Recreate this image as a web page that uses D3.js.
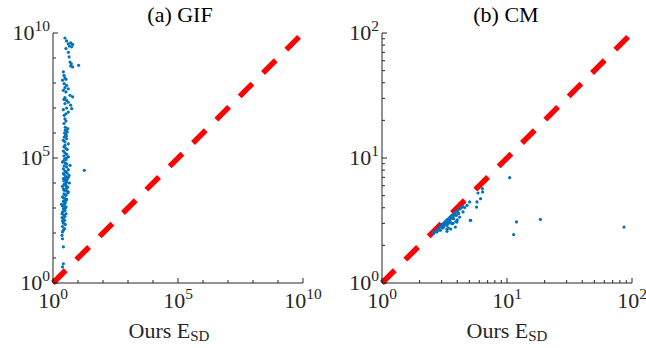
<!DOCTYPE html>
<html>
<head>
<meta charset="utf-8">
<script src="https://cdn.jsdelivr.net/npm/d3@7/dist/d3.min.js"></script>
<style>
  body { margin: 0; background: #fff; }
  svg { display: block; font-family: "Liberation Serif", "DejaVu Serif", serif; }
</style>
</head>
<body>
<svg id="chart" width="646" height="348"></svg>
<script>
// ---- (a) GIF: per-shape error, ours (x) vs. GIF (y) ----
const gifOurs = [
  3.0, 3.5, 4.1, 5.1, 6.1, 4.5, 5.6, 3.3, 4.1, 4.4, 4.8, 5.4, 6.1, 10.6, 5.1,
  2.6, 2.75, 3.0, 2.4, 3.3, 2.8, 3.5, 3.0, 4.1, 2.6, 3.3, 4.8, 3.0, 6.1, 2.75, 3.5, 4.1, 3.0, 5.1, 3.5, 2.6, 5.6, 4.1, 3.3,
  3.0, 3.3, 2.75, 3.1, 3.5, 2.9, 3.3, 3.7, 2.8, 3.5, 2.6, 4.1, 3.0, 3.3, 2.6, 3.0, 3.5, 2.75, 4.1, 3.3, 2.6, 3.1, 4.8, 3.5,
  2.6, 3.0, 3.7, 2.8, 3.3, 4.1, 2.6, 3.0, 3.5, 4.5, 2.8, 3.3, 3.9, 2.6, 3.1, 3.5, 4.1, 2.75, 3.3, 2.4, 3.0, 3.5, 2.6, 3.1,
  2.2, 2.8, 3.3, 2.6, 3.0, 2.4, 3.3, 2.75, 2.3, 2.9, 2.6, 2.4, 2.9, 2.6, 2.3, 2.4, 2.6, 2.6, 2.4,
  2.4, 3.5, 2.8, 4.1, 3.3, 2.6, 4.4, 3.0, 3.7, 2.75, 3.2, 2.4, 3.5, 2.8, 3.9, 3.0, 2.6, 3.3, 2.8, 2.4, 3.1, 2.75, 2.3,
  3.0, 2.6, 2.4, 3.1, 2.4, 3.7, 3.0, 3.2, 3.9, 2.8, 3.1, 3.4, 2.75, 3.4, 2.9,
  17.9
];
const gifBaseline = [
  6.3e9, 4.8e9, 3.7e9, 4.0e9, 3.5e9, 3.0e9, 2.8e9, 2.4e9, 1.7e9, 1.1e9, 6.9e8, 5.9e8, 4.4e8, 5.1e8, 4.8e8,
  2.8e8, 2.0e8, 1.6e8, 1.3e8, 1.4e8, 9.4e7, 8.1e7, 6.5e7, 5.9e7, 5.1e7, 4.4e7, 3.2e7, 2.6e7, 2.8e7, 2.2e7, 2.0e7, 1.7e7, 1.5e7, 1.3e7, 1.0e7, 8.6e6, 9.4e6, 6.9e6, 5.9e6,
  3.7e6, 3.0e6, 2.4e6, 1.7e6, 1.2e6, 1.0e6, 8.9e5, 1.1e6, 6.9e5, 5.9e5, 5.1e5, 3.7e5, 3.2e5, 2.4e5, 1.9e5, 1.6e5, 1.4e5, 1.2e5, 1.1e5, 8.6e4, 7.6e4, 6.3e4, 5.1e4, 4.4e4,
  3.7e4, 3.0e4, 2.5e4, 2.2e4, 1.8e4, 1.7e4, 1.5e4, 1.3e4, 1.1e4, 1.0e4, 8.9e3, 7.8e3, 6.9e3, 5.9e3, 5.4e3, 4.8e3, 4.4e3, 3.7e3, 3.2e3, 2.8e3, 2.4e3, 2.2e3, 1.9e3, 1.6e3,
  1.4e3, 1.3e3, 1.1e3, 940, 810, 690, 590, 510, 410, 320, 250, 180, 150, 130, 81, 59, 28, 5.9, 4.4,
  6.9e4, 5.9e4, 4.8e4, 3.4e4, 2.8e4, 2.4e4, 2.0e4, 1.6e4, 1.4e4, 1.2e4, 9.4e3, 7.4e3, 6.3e3, 5.1e3, 4.0e3, 3.4e3, 2.6e3, 2.0e3, 1.7e3, 1.2e3, 1.0e3, 760, 590,
  460, 370, 300, 220, 110, 2.2e5, 4.4e5, 8.1e5, 1.5e6, 5.1e6, 1.3e6, 7.4e5, 2.8e5, 1.0e5, 9.1e4,
  3.2e4
];

// ---- (b) CM: per-shape error, ours (x) vs. CM (y) ----
const cmOurs = [
  10.5, 11.3, 11.9, 18.5, 86.3, 5.12,
  5.86, 6.38, 6.35, 6.15, 5.75, 5.71, 5.02, 4.79, 4.58, 4.45, 4.18, 5.09, 3.93, 3.74, 3.52, 3.31, 3.11, 2.93, 2.75, 2.59,
  3.31, 3.86, 3.63, 3.98, 4.11,
  2.6, 2.7, 2.8, 2.85, 2.9, 3.0, 3.0, 3.05, 3.1, 3.15, 3.2, 3.2, 3.25, 3.3, 3.3, 3.35, 3.4, 3.4, 3.45, 3.5,
  3.5, 3.55, 3.6, 3.6, 3.65, 3.7, 3.75, 3.8, 3.85, 3.9, 4.0, 4.05, 4.2, 4.3, 4.4, 3.4, 3.55, 3.3, 3.7, 3.9, 4.0
];
const cmBaseline = [
  6.96, 2.44, 3.08, 3.23, 2.80, 3.17,
  5.25, 5.35, 5.69, 4.73, 4.45, 4.05, 4.45, 4.18, 4.01, 3.70, 3.37, 3.17, 3.48, 3.27, 3.07, 2.89, 2.80, 2.64, 2.56, 2.48,
  2.59, 2.80, 2.98, 3.07, 3.59,
  2.55, 2.6, 2.7, 2.65, 2.8, 2.85, 2.95, 2.75, 3.0, 2.9, 3.1, 2.95, 3.0, 3.2, 3.05, 3.1, 3.25, 3.0, 3.3, 3.2,
  3.35, 3.4, 3.3, 3.45, 3.5, 3.4, 3.55, 3.6, 3.5, 3.7, 3.8, 3.65, 3.9, 4.0, 4.1, 2.75, 2.7, 2.7, 3.0, 3.1, 3.2
];

// axis limits and labelled decades per panel
const gifLimit = 1e10, gifLabelExps = [0, 5, 10];
const cmLimit = 1e2, cmLabelExps = [0, 1, 2];
const panelTitles = ["(a) GIF", "(b) CM"];

const panels = [
  { title: panelTitles[0], xs: gifOurs, ys: gifBaseline, limit: gifLimit, labels: gifLabelExps,
    left: 53, right: 303, titleX: 180, xlabelX: 169 },
  { title: panelTitles[1], xs: cmOurs, ys: cmBaseline, limit: cmLimit, labels: cmLabelExps,
    left: 382, right: 632, titleX: 506, xlabelX: 507 }
];

const plotTop = 33, plotBottom = 283;
const axisColor = "#262626";
const dotColor = "#0072BD";
const svg = d3.select("#chart");

function powerLabel(g, exp, attrs) {
  const t = g.append("text").attr("fill", axisColor).attr("font-size", 22);
  Object.entries(attrs).forEach(([k, v]) => t.attr(k, v));
  t.append("tspan").text("10");
  t.append("tspan").attr("font-size", 15.5).attr("dy", -9).text(exp);
  return t;
}

panels.forEach(p => {
  const x = d3.scaleLog().domain([1, p.limit]).range([p.left, p.right]);
  const y = d3.scaleLog().domain([1, p.limit]).range([plotBottom, plotTop]);
  const g = svg.append("g");

  // diagonal reference line
  const diag = d3.line().x(d => x(d)).y(d => y(d));
  g.append("path")
    .datum([1, p.limit])
    .attr("d", diag)
    .attr("fill", "none")
    .attr("stroke", "#ff0000")
    .attr("stroke-width", 5.5)
    .attr("stroke-dasharray", "18,15");

  // scatter points
  const pts = p.xs.map((v, i) => [v, p.ys[i]]);
  g.selectAll("circle.pt").data(pts).join("circle")
    .attr("class", "pt")
    .attr("cx", d => x(d[0]))
    .attr("cy", d => y(d[1]))
    .attr("r", 1.6)
    .attr("fill", dotColor);

  // axis lines (left and bottom only)
  g.append("line").attr("x1", p.left).attr("x2", p.left).attr("y1", plotTop).attr("y2", plotBottom)
    .attr("stroke", axisColor).attr("stroke-width", 1);
  g.append("line").attr("x1", p.left).attr("x2", p.right).attr("y1", plotBottom).attr("y2", plotBottom)
    .attr("stroke", axisColor).attr("stroke-width", 1);

  // inward ticks
  const majorVals = p.labels.map(e => Math.pow(10, e));
  const tickVals = x.ticks();
  tickVals.forEach(v => {
    const major = majorVals.some(m => Math.abs(m - v) / m < 1e-9);
    const len = major ? 5 : 3;
    g.append("line").attr("x1", x(v)).attr("x2", x(v)).attr("y1", plotBottom).attr("y2", plotBottom - len)
      .attr("stroke", axisColor).attr("stroke-width", 1);
    g.append("line").attr("x1", p.left).attr("x2", p.left + len).attr("y1", y(v)).attr("y2", y(v))
      .attr("stroke", axisColor).attr("stroke-width", 1);
  });

  // tick labels
  p.labels.forEach(e => {
    const v = Math.pow(10, e);
    powerLabel(g, e, { x: x(v), y: 308, "text-anchor": "middle" });
    powerLabel(g, e, { x: p.left - 3, y: y(v) + 7, "text-anchor": "end" });
  });

  // title
  g.append("text").attr("x", p.titleX).attr("y", 22).attr("text-anchor", "middle")
    .attr("font-size", 22).attr("fill", "#000").text(p.title);

  // x axis label
  const xl = g.append("text").attr("x", p.xlabelX).attr("y", 338).attr("text-anchor", "middle")
    .attr("font-size", 22).attr("fill", axisColor);
  xl.append("tspan").text("Ours E");
  xl.append("tspan").attr("font-size", 15).attr("dy", 3).text("SD");
});
</script>
</body>
</html>
